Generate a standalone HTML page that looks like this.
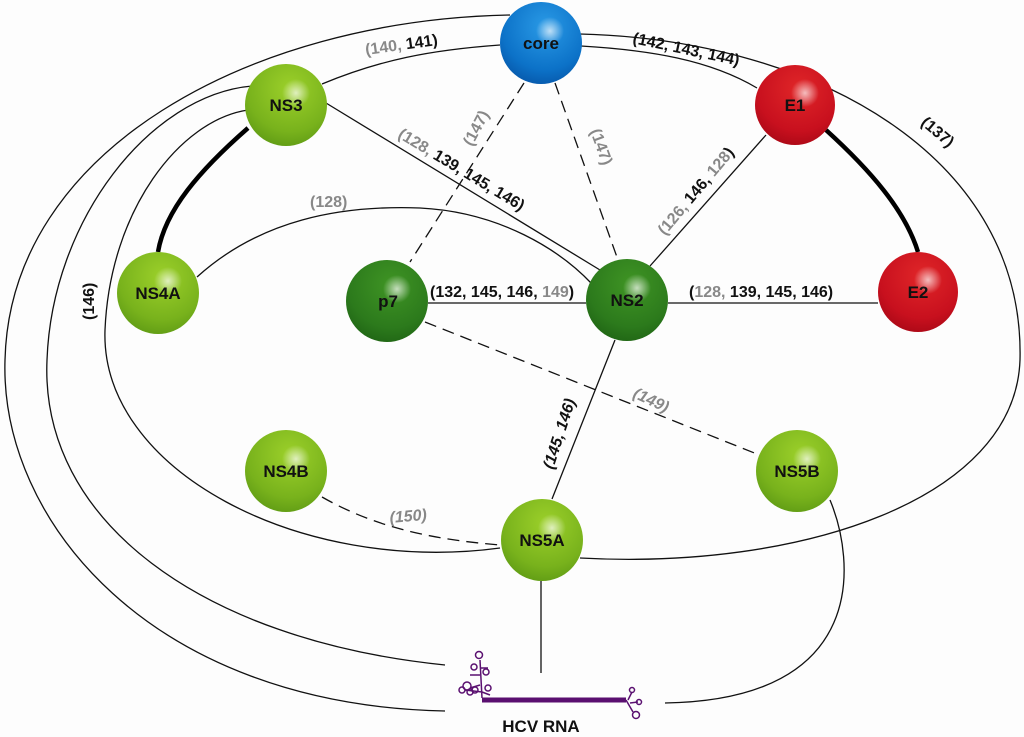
<!DOCTYPE html>
<html><head><meta charset="utf-8"><style>
html,body{margin:0;padding:0;background:#fdfdfd;}
svg{display:block;font-family:"Liberation Sans",Arial,sans-serif;font-weight:bold;}
.b{fill:#111;font-size:16px}
.g{fill:#888}
</style></head><body>
<svg width="1024" height="737" viewBox="0 0 1024 737">
<defs>
<radialGradient id="lg" cx="0.55" cy="0.3" r="0.75"><stop offset="0" stop-color="#9cd02a"/><stop offset="0.7" stop-color="#78b21c"/><stop offset="1" stop-color="#5e9a14"/></radialGradient>
<radialGradient id="dg" cx="0.55" cy="0.3" r="0.75"><stop offset="0" stop-color="#3f9424"/><stop offset="0.7" stop-color="#2c7a1c"/><stop offset="1" stop-color="#1f6414"/></radialGradient>
<radialGradient id="rd" cx="0.55" cy="0.3" r="0.75"><stop offset="0" stop-color="#e02628"/><stop offset="0.7" stop-color="#c8101e"/><stop offset="1" stop-color="#a80816"/></radialGradient>
<radialGradient id="bl" cx="0.55" cy="0.3" r="0.75"><stop offset="0" stop-color="#2a9ae6"/><stop offset="0.7" stop-color="#0c72c8"/><stop offset="1" stop-color="#0656a8"/></radialGradient>
<radialGradient id="hl" cx="0.5" cy="0.5" r="0.5"><stop offset="0" stop-color="#fff" stop-opacity="0.7"/><stop offset="1" stop-color="#fff" stop-opacity="0"/></radialGradient>
</defs>
<g fill="none" stroke="#111" stroke-width="1.3">
<path d="M445,711 C150,705 0,520 5,360 C10,150 250,20 510,15"/>
<path d="M445,665 C200,640 40,520 47,360 C52,220 150,95 252,86"/>
<path d="M500,548 C300,575 100,470 105,330 C110,210 180,120 248,110"/>
<path d="M580,34 C820,40 1025,160 1020,360 C1015,500 800,570 580,558"/>
<path d="M322,84 C380,60 430,50 500,45"/>
<path d="M581,46 C650,50 710,60 757,88"/>
<path d="M197,277 C260,220 340,205 420,208 C500,212 560,250 592,284"/>
<line x1="326" y1="103" x2="600" y2="270"/>
<line x1="428" y1="303" x2="586" y2="303"/>
<line x1="668" y1="303" x2="878" y2="303"/>
<line x1="766" y1="135" x2="650" y2="266"/>
<line x1="615" y1="340" x2="552" y2="499"/>
<line x1="541" y1="581" x2="541" y2="673"/>
<path d="M830,500 C855,560 870,700 665,703"/>
</g>
<g fill="none" stroke="#111" stroke-width="1.3" stroke-dasharray="12,7">
<line x1="524" y1="83" x2="410" y2="262"/>
<line x1="555" y1="83" x2="618" y2="260"/>
<line x1="425" y1="322" x2="762" y2="456"/>
<path d="M322,497 C380,530 440,540 500,545"/>
</g>
<g fill="none" stroke="#000" stroke-width="4.5">
<path d="M248,128 C200,170 165,210 158,252"/>
<path d="M826,130 C870,170 905,210 918,252"/>
</g>
<g>
<circle cx="541" cy="43" r="41" fill="url(#bl)"/>
<circle cx="286" cy="105" r="41" fill="url(#lg)"/>
<circle cx="795" cy="105" r="40" fill="url(#rd)"/>
<circle cx="158" cy="293" r="41" fill="url(#lg)"/>
<circle cx="387" cy="301" r="41" fill="url(#dg)"/>
<circle cx="627" cy="300" r="41" fill="url(#dg)"/>
<circle cx="918" cy="292" r="40" fill="url(#rd)"/>
<circle cx="286" cy="471" r="41" fill="url(#lg)"/>
<circle cx="797" cy="471" r="41" fill="url(#lg)"/>
<circle cx="542" cy="540" r="41" fill="url(#lg)"/>
<g fill="url(#hl)">
<circle cx="550" cy="31" r="14"/><circle cx="296" cy="93" r="14"/><circle cx="805" cy="93" r="14"/>
<circle cx="168" cy="281" r="14"/><circle cx="397" cy="289" r="14"/><circle cx="637" cy="288" r="14"/>
<circle cx="928" cy="280" r="14"/><circle cx="296" cy="459" r="14"/><circle cx="807" cy="459" r="14"/><circle cx="552" cy="528" r="14"/>
</g>
</g>
<g class="b" text-anchor="middle" style="font-size:17px">
<text x="541" y="49">core</text><text x="286" y="111">NS3</text><text x="795" y="111">E1</text>
<text x="158" y="299">NS4A</text><text x="388" y="307">p7</text><text x="627" y="306">NS2</text>
<text x="918" y="298">E2</text><text x="286" y="477">NS4B</text><text x="797" y="477">NS5B</text><text x="542" y="546">NS5A</text>
<text x="541" y="732">HCV RNA</text>
</g>
<g stroke="#5a1070" fill="none" stroke-width="1.5">
<line x1="482" y1="700" x2="626" y2="700" stroke-width="5"/>
<path d="M482,698 L480,660 M480,675 L470,675 M480,668 L488,668 M480,685 L470,688 M482,692 L465,690 M482,692 L490,695"/>
<circle cx="479" cy="655" r="3.5"/><circle cx="474" cy="667" r="3"/><circle cx="486" cy="672" r="3"/><circle cx="467" cy="686" r="4"/><circle cx="475" cy="690" r="3"/><circle cx="462" cy="690" r="3"/><circle cx="488" cy="688" r="3"/><circle cx="470" cy="692" r="3"/>
<path d="M626,700 L633,712 M628,700 L632,692 M630,703 L638,702"/>
<circle cx="632" cy="690" r="2.5"/><circle cx="639" cy="702" r="2.5"/><circle cx="636" cy="715" r="3.5"/>
</g>
<g class="b">
<text transform="translate(366,55) rotate(-8)"><tspan class="g">(140, </tspan>141)</text>
<text transform="translate(632,43) rotate(12)">(142, 143, 144)</text>
<text transform="translate(920,124) rotate(40)">(137)</text>
<text transform="translate(472,147) rotate(-62)" class="g">(147)</text>
<text transform="translate(590,131) rotate(70)" class="g">(147)</text>
<text transform="translate(397,137) rotate(31)"><tspan class="g">(128, </tspan>139, 145, 146)</text>
<text transform="translate(665,236) rotate(-50)"><tspan class="g">(126, </tspan>146, <tspan class="g">128</tspan>)</text>
<text x="310" y="207" class="g">(128)</text>
<text x="430" y="297">(132, 145, 146, <tspan class="g">149</tspan>)</text>
<text x="689" y="297">(<tspan class="g">128, </tspan>139, 145, 146)</text>
<text transform="translate(94,320) rotate(-90)">(146)</text>
<text transform="translate(553,470) rotate(-72)" font-style="italic">(145, 146)</text>
<text transform="translate(632,397) rotate(25)" class="g" font-style="italic">(149)</text>
<text transform="translate(390,523) rotate(-5)" class="g" font-style="italic">(150)</text>
</g>
</svg>
</body></html>
